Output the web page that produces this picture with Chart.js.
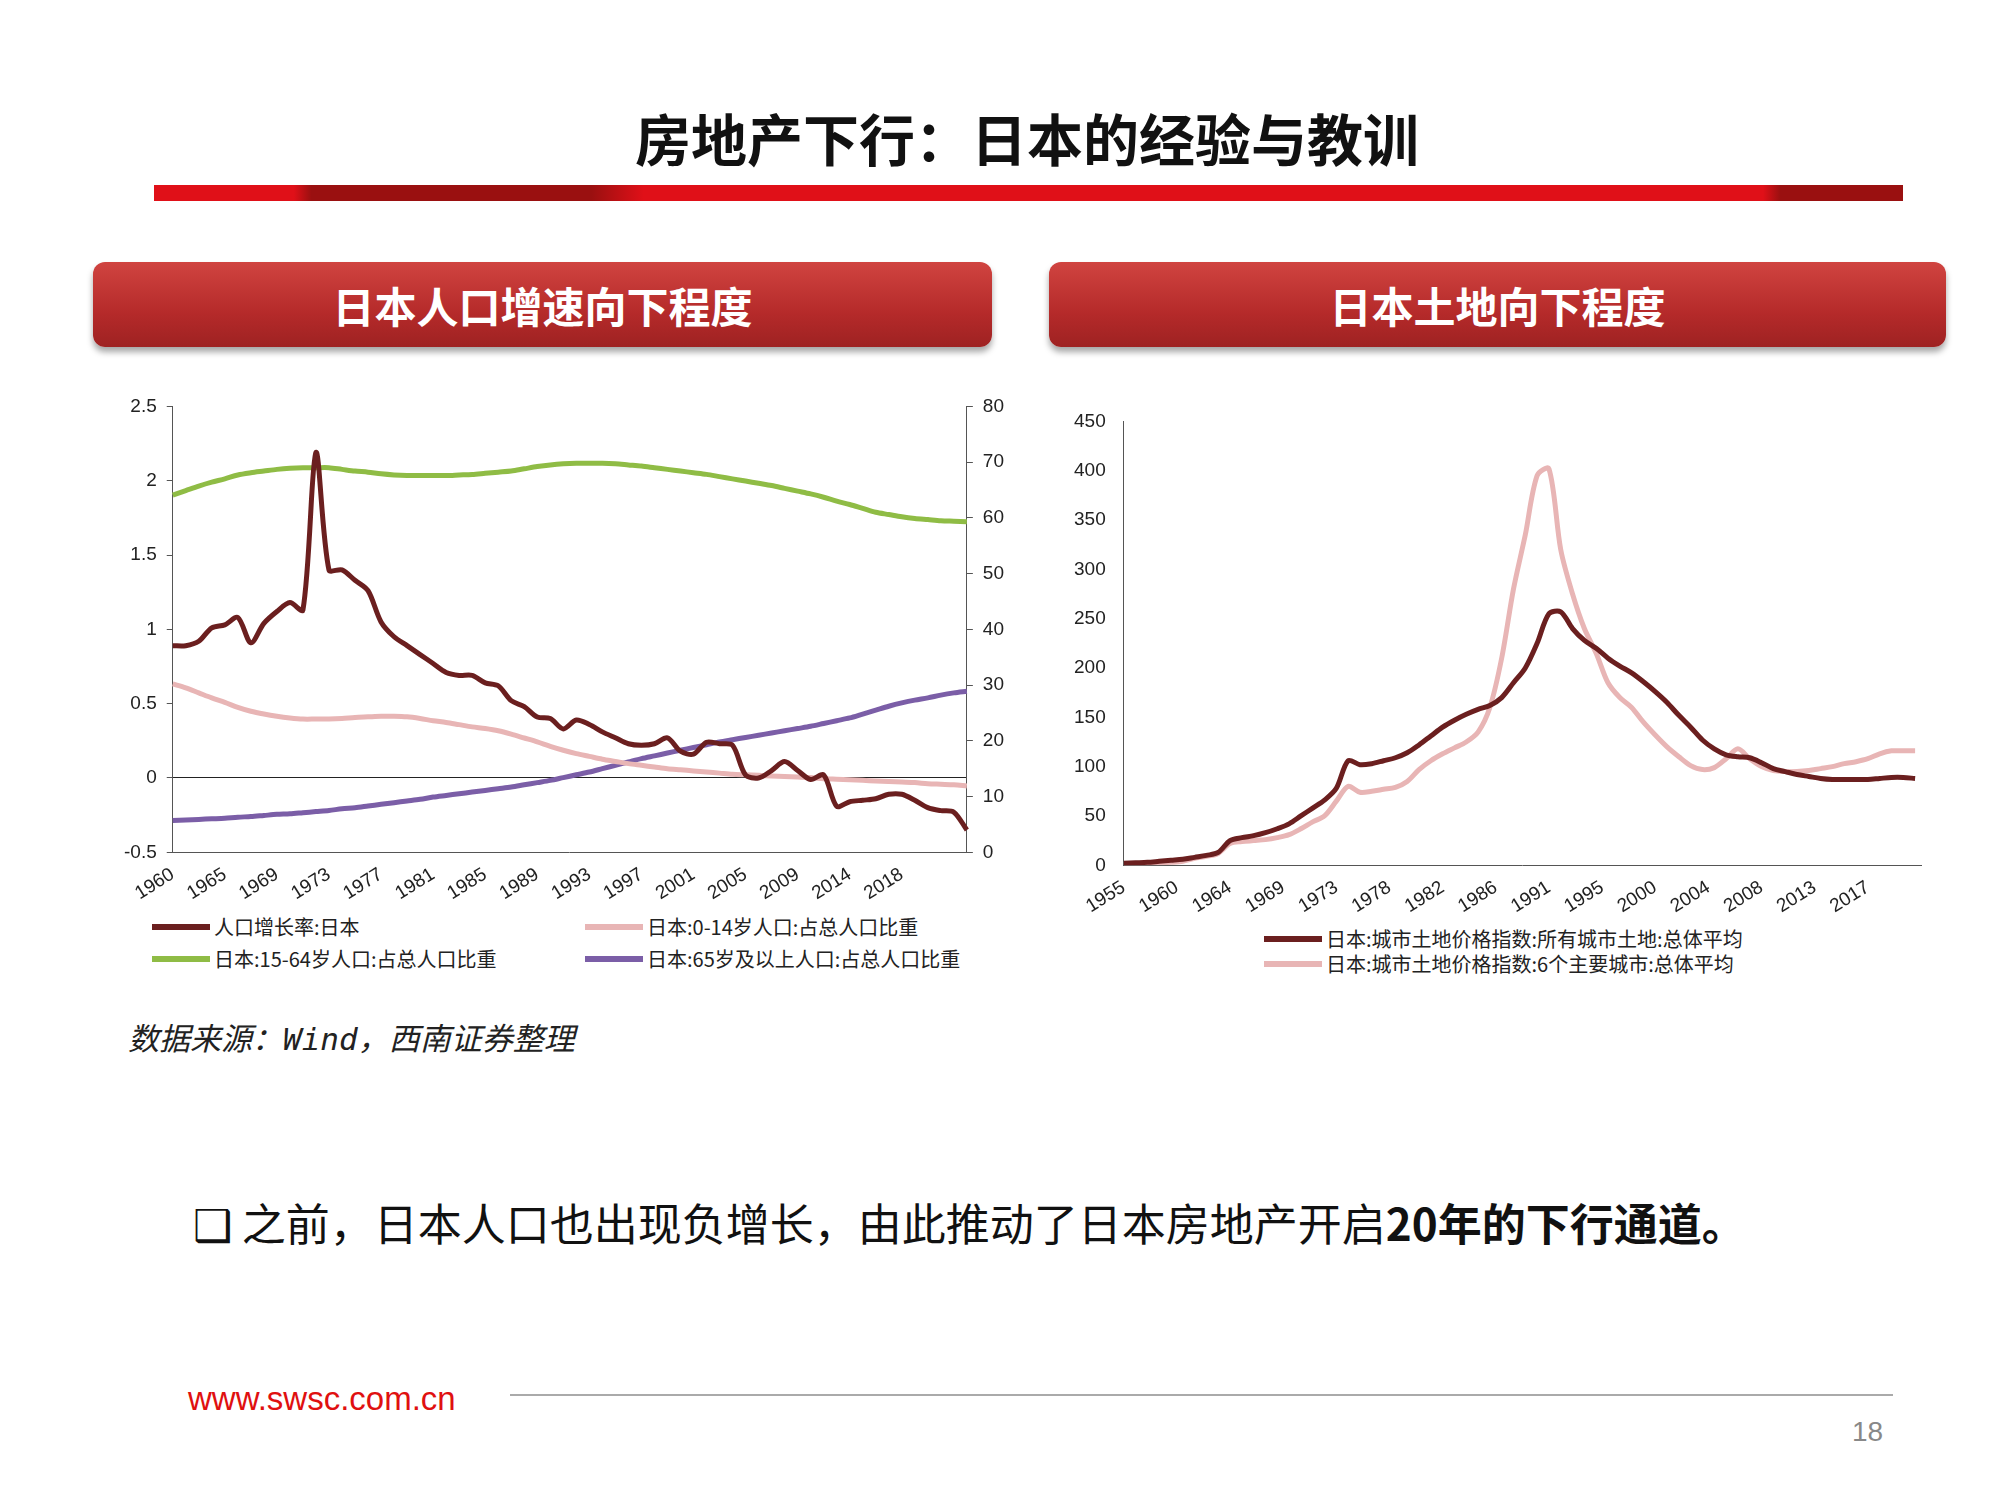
<!DOCTYPE html>
<html><head><meta charset="utf-8">
<script src="https://cdn.jsdelivr.net/npm/chart.js@4.4.1/dist/chart.umd.min.js"></script>
<style>
body{margin:0;width:2000px;height:1500px;background:#fff;position:relative;font-family:"Noto Sans CJK SC",sans-serif;overflow:hidden}
.abs{position:absolute}
#title{left:0;width:2054px;top:96px;text-align:center;font-size:56px;font-weight:bold;color:#111}
#bar{left:154px;top:185px;width:1749px;height:16px;background:linear-gradient(90deg,#e01018 0%,#e01018 8%,#9a1010 9%,#9a1010 25%,#e01018 28%,#e01018 92%,#9a1010 93%,#9a1010 100%)}
.hdr{top:262px;height:85px;border-radius:12px;background:linear-gradient(#d04440,#b52a2a 60%,#9e2222);box-shadow:0 5px 6px rgba(0,0,0,.35);color:#fff;font-weight:bold;font-size:42px;text-align:center;line-height:85px}
.leg{font-family:"Liberation Sans Narrow","Noto Sans CJK SC",sans-serif;font-size:20px;color:#222;display:flex;align-items:center;white-space:nowrap}
.leg i{display:inline-block;width:58px;height:6px;margin-right:4px}
</style></head><body>
<div id="title" class="abs">房地产下行：日本的经验与教训</div>
<div id="bar" class="abs"></div>
<div class="abs hdr" style="left:93px;width:899px">日本人口增速向下程度</div>
<div class="abs hdr" style="left:1049px;width:897px">日本土地向下程度</div>
<div class="abs" style="left:114px;top:385px;width:900px;height:523px"><canvas id="c1"></canvas></div>
<div class="abs" style="left:1064px;top:400px;width:877px;height:521px"><canvas id="c2"></canvas></div>
<div class="abs leg" style="left:152px;top:912px"><i style="background:#6b1f1f"></i>人口增长率:日本</div>
<div class="abs leg" style="left:585px;top:912px"><i style="background:#e8b5b5"></i>日本:0-14岁人口:占总人口比重</div>
<div class="abs leg" style="left:152px;top:944px"><i style="background:#8fbc45"></i>日本:15-64岁人口:占总人口比重</div>
<div class="abs leg" style="left:585px;top:944px"><i style="background:#7b5ea7"></i>日本:65岁及以上人口:占总人口比重</div>
<div class="abs leg" style="left:1264px;top:924px"><i style="background:#6b1f1f"></i>日本:城市土地价格指数:所有城市土地:总体平均</div>
<div class="abs leg" style="left:1264px;top:949px"><i style="background:#e8b5b5"></i>日本:城市土地价格指数:6个主要城市:总体平均</div>
<div class="abs" style="left:128px;top:1014px;font-size:31px;font-style:italic;color:#222;font-family:'DejaVu Sans Mono','Noto Sans CJK SC',monospace">数据来源：Wind，西南证券整理</div>
<div class="abs" style="left:193px;top:1190px;font-size:44px;color:#111">❑ 之前，日本人口也出现负增长，由此推动了日本房地产开启<b>20年的下行通道。</b></div>
<div class="abs" style="left:188px;top:1380px;font-size:33px;color:#e01010;font-family:'Liberation Sans',sans-serif">www.swsc.com.cn</div>
<div class="abs" style="left:510px;top:1394px;width:1383px;height:2px;background:#aaa"></div>
<div class="abs" style="left:1852px;top:1416px;font-size:28px;color:#888;font-family:'Liberation Sans',sans-serif">18</div>
<script>
const years1=[];for(let y=1960;y<=2021;y++)years1.push(String(y));
const tickLabels1=["1960","1965","1969","1973","1977","1981","1985","1989","1993","1997","2001","2005","2009","2014","2018"];
const growth=[0.89,0.89,0.92,1.01,1.03,1.08,0.91,1.04,1.12,1.18,1.13,2.19,1.40,1.40,1.33,1.26,1.05,0.95,0.89,0.83,0.77,0.71,0.69,0.69,0.64,0.62,0.52,0.48,0.41,0.40,0.33,0.39,0.36,0.31,0.27,0.23,0.22,0.23,0.27,0.18,0.16,0.24,0.23,0.22,0.02,0.00,0.05,0.11,0.05,-0.01,0.02,-0.19,-0.16,-0.15,-0.14,-0.11,-0.11,-0.15,-0.20,-0.22,-0.23,-0.35];
const age0_14=[30.2,29.5,28.6,27.7,26.9,26.0,25.3,24.8,24.4,24.1,23.9,23.9,23.9,24.0,24.2,24.3,24.4,24.4,24.3,24.0,23.6,23.3,22.9,22.5,22.2,21.8,21.2,20.5,19.8,19.0,18.3,17.7,17.2,16.7,16.3,15.9,15.6,15.3,15.0,14.8,14.6,14.4,14.2,14.0,13.9,13.8,13.7,13.6,13.5,13.4,13.2,13.1,13.0,12.9,12.8,12.7,12.6,12.5,12.3,12.2,12.1,11.9];
const age15_64=[64.1,64.9,65.7,66.4,67.0,67.7,68.1,68.4,68.7,68.9,69.0,69.0,69.0,68.7,68.4,68.2,67.9,67.7,67.6,67.6,67.6,67.6,67.7,67.8,68.0,68.2,68.4,68.8,69.2,69.5,69.7,69.8,69.8,69.8,69.7,69.5,69.3,69.0,68.7,68.4,68.1,67.8,67.4,67.0,66.6,66.2,65.8,65.3,64.8,64.3,63.7,63.0,62.4,61.7,61.0,60.6,60.2,59.9,59.7,59.5,59.4,59.3];
const age65=[5.7,5.8,5.9,6.0,6.1,6.3,6.4,6.6,6.8,6.9,7.1,7.3,7.5,7.8,8.0,8.3,8.6,8.9,9.2,9.5,9.9,10.2,10.5,10.8,11.1,11.4,11.7,12.1,12.5,12.9,13.4,13.9,14.4,15.0,15.6,16.2,16.8,17.3,17.8,18.3,18.8,19.3,19.8,20.2,20.6,21.0,21.4,21.8,22.2,22.6,23.1,23.6,24.1,24.8,25.5,26.2,26.8,27.3,27.7,28.2,28.6,28.9];
const years2=[];for(let y=1955;y<=2022;y++)years2.push(y);
const tickLabels2=["1955","1960","1964","1969","1973","1978","1982","1986","1991","1995","2000","2004","2008","2013","2017"];
const landAll=[2,2.5,3,4,5,6,8,10,13,25,28,30,33,37,42,50,58,66,78,106,102,103,106,109,114,122,131,140,147,153,158,162,170,185,200,225,255,257,240,228,220,210,202,195,186,176,165,152,140,127,118,112,110,109,104,98,95,92,90,88,87,87,87,87,88,89,89,88];
const land6=[1,1.5,2,2.5,3,4,7,9,12,22,24,25,26,28,31,37,44,50,65,80,74,75,77,79,85,97,106,113,119,125,135,160,210,280,335,395,402,320,275,240,215,185,170,160,145,132,120,110,101,97,99,108,118,108,100,96,95,95,96,98,100,103,105,108,113,116,116,116];

const F="'Liberation Sans Narrow','Liberation Sans',sans-serif";
Chart.defaults.font.family=F;Chart.defaults.font.size=19;Chart.defaults.color='#222';
Chart.defaults.animation=false;Chart.defaults.responsive=true;Chart.defaults.maintainAspectRatio=false;
const ln=(d,c,ax)=>({data:d,borderColor:c,borderWidth:5,pointRadius:0,tension:0.3,yAxisID:ax,fill:false});
new Chart(document.getElementById('c1'),{type:'line',
 data:{labels:years1,datasets:[ln(growth,'#6b1f1f','y'),ln(age0_14,'#e8b5b5','y1'),ln(age15_64,'#8fbc45','y1'),ln(age65,'#7b5ea7','y1')]},
 options:{plugins:{legend:{display:false},tooltip:{enabled:false}},layout:{padding:{right:0,top:5}},
  scales:{
   x:{offset:false,grid:{display:false},border:{color:'#555'},ticks:{autoSkip:false,maxRotation:32,minRotation:32,callback:(v,i)=>i%4===0?tickLabels1[i/4]:null}},
   y:{min:-0.5,max:2.5,ticks:{stepSize:0.5,padding:10,callback:v=>String(v)},border:{color:'#555'},grid:{drawOnChartArea:true,color:c=>c.tick.value===0?'#222':'transparent',tickColor:'#555',tickLength:6}},
   y1:{position:'right',min:0,max:80,ticks:{stepSize:10,padding:10},border:{color:'#555'},grid:{drawOnChartArea:false,tickColor:'#555',tickLength:6}}
  }}});
new Chart(document.getElementById('c2'),{type:'line',
 data:{datasets:[{...ln(years2.map((y,i)=>({x:y,y:landAll[i]})),'#6b1f1f','y')},{...ln(years2.map((y,i)=>({x:y,y:land6[i]})),'#e8b5b5','y')}]},
 options:{plugins:{legend:{display:false},tooltip:{enabled:false}},layout:{padding:{right:20,top:5}},
  scales:{
   x:{type:'linear',min:1955,max:2022.5,grid:{display:false,tickColor:'#555'},border:{color:'#555'},
      afterBuildTicks:a=>{a.ticks=tickLabels2.map((l,i)=>({value:1955+4.5*i}));},
      ticks:{autoSkip:false,maxRotation:32,minRotation:32,callback:(v,i)=>tickLabels2[i]}},
   y:{min:0,max:450,ticks:{stepSize:50,padding:10},border:{color:'#555'},grid:{display:false}}
  }}});
</script></body></html>
